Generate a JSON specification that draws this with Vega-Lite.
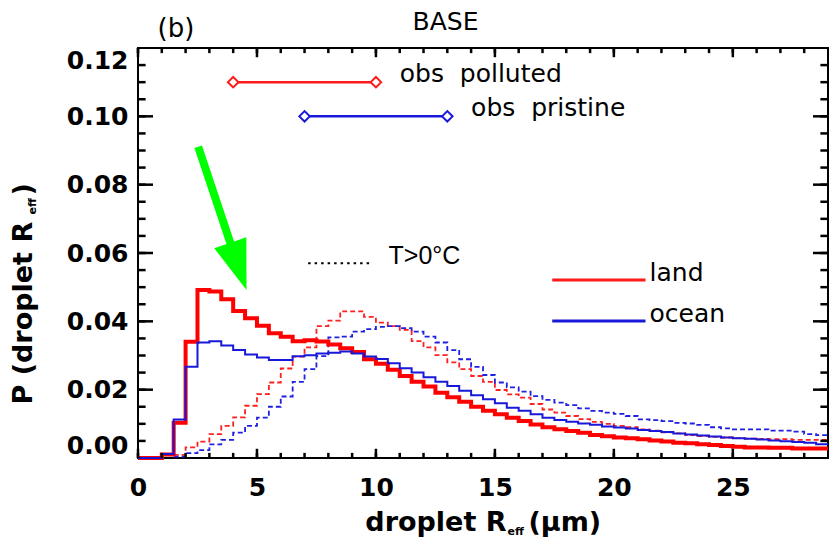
{
  "$schema": "https://vega.github.io/schema/vega-lite/v6.json",
  "width": 690,
  "height": 410,
  "autosize": {"type": "none"},
  "padding": {"left": 138, "top": 48, "right": 1, "bottom": 87},
  "background": "white",
  "config": {"view": {"stroke": "black", "strokeWidth": 2}, "font": "DejaVu Sans"},
  "datasets": {
    "hist": [
      {"r": 0.0, "land": 0, "ocean": 0, "landWarm": null, "oceanWarm": null},
      {"r": 0.5, "land": 0, "ocean": 0, "landWarm": null, "oceanWarm": null},
      {"r": 1.0, "land": 0.001, "ocean": 0.0012, "landWarm": null, "oceanWarm": null},
      {"r": 1.5, "land": 0.0103, "ocean": 0.0113, "landWarm": 0.0009, "oceanWarm": 0.0004},
      {"r": 2.0, "land": 0.034, "ocean": 0.0267, "landWarm": 0.0031, "oceanWarm": 0.0014},
      {"r": 2.5, "land": 0.0492, "ocean": 0.0338, "landWarm": 0.0048, "oceanWarm": 0.0023},
      {"r": 3.0, "land": 0.0487, "ocean": 0.0342, "landWarm": 0.007, "oceanWarm": 0.004},
      {"r": 3.5, "land": 0.0465, "ocean": 0.0329, "landWarm": 0.0094, "oceanWarm": 0.0053},
      {"r": 4.0, "land": 0.043, "ocean": 0.0316, "landWarm": 0.0119, "oceanWarm": 0.0074},
      {"r": 4.5, "land": 0.0409, "ocean": 0.0303, "landWarm": 0.0153, "oceanWarm": 0.0094},
      {"r": 5.0, "land": 0.0387, "ocean": 0.0294, "landWarm": 0.0187, "oceanWarm": 0.0118},
      {"r": 5.5, "land": 0.0365, "ocean": 0.0287, "landWarm": 0.0221, "oceanWarm": 0.015},
      {"r": 6.0, "land": 0.0355, "ocean": 0.0287, "landWarm": 0.0262, "oceanWarm": 0.018},
      {"r": 6.5, "land": 0.0342, "ocean": 0.0298, "landWarm": 0.0297, "oceanWarm": 0.0223},
      {"r": 7.0, "land": 0.0345, "ocean": 0.0301, "landWarm": 0.0324, "oceanWarm": 0.026},
      {"r": 7.5, "land": 0.0341, "ocean": 0.0306, "landWarm": 0.0386, "oceanWarm": 0.0298},
      {"r": 8.0, "land": 0.0332, "ocean": 0.0308, "landWarm": 0.0402, "oceanWarm": 0.0353},
      {"r": 8.5, "land": 0.0321, "ocean": 0.0312, "landWarm": 0.0429, "oceanWarm": 0.0355},
      {"r": 9.0, "land": 0.031, "ocean": 0.0306, "landWarm": 0.0429, "oceanWarm": 0.037},
      {"r": 9.5, "land": 0.0289, "ocean": 0.0297, "landWarm": 0.0413, "oceanWarm": 0.0377},
      {"r": 10.0, "land": 0.0276, "ocean": 0.029, "landWarm": 0.0396, "oceanWarm": 0.0384},
      {"r": 10.5, "land": 0.0258, "ocean": 0.0277, "landWarm": 0.0386, "oceanWarm": 0.0386},
      {"r": 11.0, "land": 0.024, "ocean": 0.0263, "landWarm": 0.0375, "oceanWarm": 0.038},
      {"r": 11.5, "land": 0.0223, "ocean": 0.025, "landWarm": 0.0342, "oceanWarm": 0.037},
      {"r": 12.0, "land": 0.0209, "ocean": 0.0236, "landWarm": 0.0324, "oceanWarm": 0.0355},
      {"r": 12.5, "land": 0.0191, "ocean": 0.0223, "landWarm": 0.0301, "oceanWarm": 0.0338},
      {"r": 13.0, "land": 0.0178, "ocean": 0.0211, "landWarm": 0.028, "oceanWarm": 0.0316},
      {"r": 13.5, "land": 0.0165, "ocean": 0.0197, "landWarm": 0.026, "oceanWarm": 0.0289},
      {"r": 14.0, "land": 0.015, "ocean": 0.0184, "landWarm": 0.024, "oceanWarm": 0.0267},
      {"r": 14.5, "land": 0.0138, "ocean": 0.0172, "landWarm": 0.0223, "oceanWarm": 0.0243},
      {"r": 15.0, "land": 0.0128, "ocean": 0.016, "landWarm": 0.0199, "oceanWarm": 0.0221},
      {"r": 15.5, "land": 0.0118, "ocean": 0.0147, "landWarm": 0.0186, "oceanWarm": 0.0207},
      {"r": 16.0, "land": 0.0108, "ocean": 0.0138, "landWarm": 0.0177, "oceanWarm": 0.0194},
      {"r": 16.5, "land": 0.0098, "ocean": 0.0128, "landWarm": 0.0158, "oceanWarm": 0.0181},
      {"r": 17.0, "land": 0.009, "ocean": 0.0118, "landWarm": 0.0142, "oceanWarm": 0.017},
      {"r": 17.5, "land": 0.0084, "ocean": 0.0111, "landWarm": 0.0133, "oceanWarm": 0.0162},
      {"r": 18.0, "land": 0.0079, "ocean": 0.0106, "landWarm": 0.0123, "oceanWarm": 0.0155},
      {"r": 18.5, "land": 0.0074, "ocean": 0.0101, "landWarm": 0.0114, "oceanWarm": 0.0145},
      {"r": 19.0, "land": 0.0067, "ocean": 0.0097, "landWarm": 0.0106, "oceanWarm": 0.0138},
      {"r": 19.5, "land": 0.0064, "ocean": 0.0092, "landWarm": 0.01, "oceanWarm": 0.0133},
      {"r": 20.0, "land": 0.006, "ocean": 0.0089, "landWarm": 0.0094, "oceanWarm": 0.0129},
      {"r": 20.5, "land": 0.0058, "ocean": 0.0086, "landWarm": 0.009, "oceanWarm": 0.0123},
      {"r": 21.0, "land": 0.0055, "ocean": 0.0082, "landWarm": 0.0084, "oceanWarm": 0.0113},
      {"r": 21.5, "land": 0.0051, "ocean": 0.0079, "landWarm": 0.008, "oceanWarm": 0.0111},
      {"r": 22.0, "land": 0.0048, "ocean": 0.0076, "landWarm": 0.0075, "oceanWarm": 0.0108},
      {"r": 22.5, "land": 0.0045, "ocean": 0.0072, "landWarm": 0.0072, "oceanWarm": 0.0103},
      {"r": 23.0, "land": 0.0043, "ocean": 0.0069, "landWarm": 0.0067, "oceanWarm": 0.0101},
      {"r": 23.5, "land": 0.004, "ocean": 0.0066, "landWarm": 0.0064, "oceanWarm": 0.0097},
      {"r": 24.0, "land": 0.0038, "ocean": 0.0063, "landWarm": 0.0062, "oceanWarm": 0.009},
      {"r": 24.5, "land": 0.0035, "ocean": 0.006, "landWarm": 0.006, "oceanWarm": 0.0087},
      {"r": 25.0, "land": 0.0033, "ocean": 0.0058, "landWarm": 0.0058, "oceanWarm": 0.0084},
      {"r": 25.5, "land": 0.0031, "ocean": 0.0056, "landWarm": 0.0057, "oceanWarm": 0.0084},
      {"r": 26.0, "land": 0.0031, "ocean": 0.0054, "landWarm": 0.0056, "oceanWarm": 0.0084},
      {"r": 26.5, "land": 0.003, "ocean": 0.0051, "landWarm": 0.0055, "oceanWarm": 0.008},
      {"r": 27.0, "land": 0.003, "ocean": 0.0049, "landWarm": 0.0055, "oceanWarm": 0.008},
      {"r": 27.5, "land": 0.0028, "ocean": 0.0047, "landWarm": 0.0053, "oceanWarm": 0.0077},
      {"r": 28.0, "land": 0.0028, "ocean": 0.0045, "landWarm": 0.0053, "oceanWarm": 0.007},
      {"r": 28.5, "land": 0.0028, "ocean": 0.004, "landWarm": 0.0053, "oceanWarm": 0.0067},
      {"r": 29.0, "land": 0.0028, "ocean": 0.004, "landWarm": 0.0053, "oceanWarm": 0.0067}
    ],
    "xTicks": [{"v": 0}, {"v": 1}, {"v": 2}, {"v": 3}, {"v": 4}, {"v": 5}, {"v": 6}, {"v": 7}, {"v": 8}, {"v": 9}, {"v": 10}, {"v": 11}, {"v": 12}, {"v": 13}, {"v": 14}, {"v": 15}, {"v": 16}, {"v": 17}, {"v": 18}, {"v": 19}, {"v": 20}, {"v": 21}, {"v": 22}, {"v": 23}, {"v": 24}, {"v": 25}, {"v": 26}, {"v": 27}, {"v": 28}],
    "yTicks": [{"v": 0.005}, {"v": 0.01}, {"v": 0.015}, {"v": 0.02}, {"v": 0.025}, {"v": 0.03}, {"v": 0.035}, {"v": 0.04}, {"v": 0.045}, {"v": 0.05}, {"v": 0.055}, {"v": 0.06}, {"v": 0.065}, {"v": 0.07}, {"v": 0.075}, {"v": 0.08}, {"v": 0.085}, {"v": 0.09}, {"v": 0.095}, {"v": 0.1}, {"v": 0.105}, {"v": 0.11}, {"v": 0.115}],
    "obsRed": [{"x": 4.0, "y": 0.11}, {"x": 10.0, "y": 0.11}],
    "obsBlue": [{"x": 7.0, "y": 0.10}, {"x": 13.0, "y": 0.10}],
    "labels": [
      {"x": 11.0, "y": 0.11, "label": "obs\u00a0 polluted"},
      {"x": 14.0, "y": 0.10, "label": "obs\u00a0 pristine"},
      {"x": 21.5, "y": 0.0519, "label": "land"},
      {"x": 21.5, "y": 0.0399, "label": "ocean"}
    ],
    "temp": [{"x": 10.53, "y": 0.0568, "label": "T>0°C"}],
    "keyRed": [{"x": 17.41, "x2": 21.33, "y": 0.0521}],
    "keyBlue": [{"x": 17.41, "x2": 21.33, "y": 0.0401}],
    "keyDot": [{"x": 7.15, "x2": 9.75, "y": 0.057}],
    "shaft": [{"x": 2.53, "y": 0.0911, "x2": 3.95, "y2": 0.0615}],
    "head": [{"x": 4.22, "y": 0.0561}]
  },
  "layer": [
    {
      "data": {"name": "hist"},
      "mark": {"type": "line", "interpolate": "step-after", "color": "#ff2020", "strokeWidth": 1.8, "strokeDash": [5, 3]},
      "encoding": {
        "x": {"field": "r", "type": "quantitative", "scale": {"domain": [0, 29], "nice": false, "zero": false},
          "axis": {"orient": "bottom", "ticks": false, "labels": false, "domain": false, "grid": false,
            "title": "eff", "titleFont": "DejaVu Sans", "titleFontSize": 11, "titleFontWeight": "bold", "titleColor": "black",
            "titleAlign": "left", "titleBaseline": "alphabetic", "titleAnchor": "start", "titleX": 369, "titleY": 76}},
        "y": {"field": "landWarm", "type": "quantitative", "scale": {"domain": [0, 0.12], "nice": false, "zero": false},
          "axis": {"orient": "left", "ticks": false, "labels": false, "domain": false, "grid": false,
            "title": "eff", "titleFont": "DejaVu Sans", "titleFontSize": 11, "titleFontWeight": "bold", "titleColor": "black",
            "titleAngle": 270, "titleAlign": "left", "titleBaseline": "alphabetic", "titleAnchor": "start", "titleX": -103, "titleY": 166}}
      }
    },
    {
      "data": {"name": "hist"},
      "mark": {"type": "line", "interpolate": "step-after", "color": "#2020e0", "strokeWidth": 1.8, "strokeDash": [5, 3]},
      "encoding": {
        "x": {"field": "r", "type": "quantitative", "scale": {"domain": [0, 29], "nice": false, "zero": false},
          "axis": {"orient": "bottom", "ticks": false, "labels": false, "domain": false, "grid": false,
            "title": "(μm)", "titleFont": "DejaVu Sans", "titleFontSize": 27, "titleFontWeight": "bold", "titleColor": "black",
            "titleAlign": "left", "titleBaseline": "alphabetic", "titleAnchor": "start", "titleX": 390, "titleY": 72}},
        "y": {"field": "oceanWarm", "type": "quantitative", "scale": {"domain": [0, 0.12], "nice": false, "zero": false},
          "axis": {"orient": "left", "ticks": false, "labels": false, "domain": false, "grid": false,
            "title": ")", "titleFont": "DejaVu Sans", "titleFontSize": 27, "titleFontWeight": "bold", "titleColor": "black",
            "titleAngle": 270, "titleAlign": "left", "titleBaseline": "alphabetic", "titleAnchor": "start", "titleX": -107, "titleY": 147}}
      }
    },
    {
      "data": {"name": "hist"},
      "mark": {"type": "line", "interpolate": "step-after", "color": "#ff0000", "strokeWidth": 4},
      "encoding": {
        "x": {"field": "r", "type": "quantitative", "scale": {"domain": [0, 29], "nice": false, "zero": false},
          "axis": {"orient": "bottom", "values": [0, 5, 10, 15, 20, 25], "format": "d",
            "ticks": false, "domain": false, "grid": false,
            "labelFont": "DejaVu Sans", "labelFontSize": 25, "labelFontWeight": "bold", "labelColor": "black", "labelPadding": 17,
            "labelFlush": false, "labelOverlap": false,
            "title": "droplet R", "titleFont": "DejaVu Sans", "titleFontSize": 27, "titleFontWeight": "bold", "titleColor": "black",
            "titleAlign": "right", "titleBaseline": "alphabetic", "titleAnchor": "start", "titleX": 368, "titleY": 72}},
        "y": {"field": "land", "type": "quantitative", "scale": {"domain": [0, 0.12], "nice": false, "zero": false},
          "axis": {"orient": "left", "values": [0, 0.02, 0.04, 0.06, 0.08, 0.1, 0.12], "format": ".2f",
            "ticks": false, "domain": false, "grid": false,
            "labelFont": "DejaVu Sans", "labelFontSize": 25, "labelFontWeight": "bold", "labelColor": "black", "labelPadding": 10,
            "labelFlush": true, "labelOverlap": false,
            "title": "P (droplet R", "titleFont": "DejaVu Sans", "titleFontSize": 27, "titleFontWeight": "bold", "titleColor": "black",
            "titleAngle": 270, "titleAlign": "left", "titleBaseline": "alphabetic", "titleAnchor": "start", "titleX": -107, "titleY": 356}}
      }
    },
    {
      "data": {"name": "hist"},
      "mark": {"type": "line", "interpolate": "step-after", "color": "#1818d8", "strokeWidth": 2},
      "encoding": {
        "x": {"field": "r", "type": "quantitative", "scale": {"domain": [0, 29], "nice": false, "zero": false},
          "axis": {"orient": "top", "ticks": false, "labels": false, "domain": false, "grid": false,
            "title": "BASE", "titleFont": "DejaVu Sans", "titleFontSize": 25, "titleFontWeight": "normal", "titleColor": "black",
            "titleAlign": "center", "titleBaseline": "alphabetic", "titleAnchor": "start", "titleX": 307, "titleY": -19}},
        "y": {"field": "ocean", "type": "quantitative", "scale": {"domain": [0, 0.12], "nice": false, "zero": false}, "axis": null}
      }
    },
    {
      "data": {"name": "obsRed"},
      "mark": {"type": "line", "color": "#ff1a1a", "strokeWidth": 2.5},
      "encoding": {
        "x": {"field": "x", "type": "quantitative", "scale": {"domain": [0, 29], "nice": false, "zero": false},
          "axis": {"orient": "top", "ticks": false, "labels": false, "domain": false, "grid": false,
            "title": "(b)", "titleFont": "DejaVu Sans", "titleFontSize": 26, "titleFontWeight": "normal", "titleColor": "black",
            "titleAlign": "left", "titleBaseline": "alphabetic", "titleAnchor": "start", "titleX": 19, "titleY": -12}},
        "y": {"field": "y", "type": "quantitative", "scale": {"domain": [0, 0.12], "nice": false, "zero": false}, "axis": null}
      }
    },
    {
      "data": {"name": "obsRed"},
      "mark": {"type": "point", "shape": "diamond", "size": 110, "color": "#ff1a1a", "fill": "white", "filled": false, "strokeWidth": 2, "opacity": 1},
      "encoding": {
        "x": {"field": "x", "type": "quantitative", "scale": {"domain": [0, 29], "nice": false, "zero": false}, "axis": null},
        "y": {"field": "y", "type": "quantitative", "scale": {"domain": [0, 0.12], "nice": false, "zero": false}, "axis": null}
      }
    },
    {
      "data": {"name": "obsBlue"},
      "mark": {"type": "line", "color": "#1818d8", "strokeWidth": 2.5},
      "encoding": {
        "x": {"field": "x", "type": "quantitative", "scale": {"domain": [0, 29], "nice": false, "zero": false}, "axis": null},
        "y": {"field": "y", "type": "quantitative", "scale": {"domain": [0, 0.12], "nice": false, "zero": false}, "axis": null}
      }
    },
    {
      "data": {"name": "obsBlue"},
      "mark": {"type": "point", "shape": "diamond", "size": 110, "color": "#1818d8", "fill": "white", "filled": false, "strokeWidth": 2, "opacity": 1},
      "encoding": {
        "x": {"field": "x", "type": "quantitative", "scale": {"domain": [0, 29], "nice": false, "zero": false}, "axis": null},
        "y": {"field": "y", "type": "quantitative", "scale": {"domain": [0, 0.12], "nice": false, "zero": false}, "axis": null}
      }
    },
    {
      "data": {"name": "keyRed"},
      "mark": {"type": "rule", "color": "#ff1a1a", "strokeWidth": 3},
      "encoding": {
        "x": {"field": "x", "type": "quantitative", "scale": {"domain": [0, 29], "nice": false, "zero": false}, "axis": null},
        "x2": {"field": "x2"},
        "y": {"field": "y", "type": "quantitative", "scale": {"domain": [0, 0.12], "nice": false, "zero": false}, "axis": null}
      }
    },
    {
      "data": {"name": "keyBlue"},
      "mark": {"type": "rule", "color": "#1818d8", "strokeWidth": 3},
      "encoding": {
        "x": {"field": "x", "type": "quantitative", "scale": {"domain": [0, 29], "nice": false, "zero": false}, "axis": null},
        "x2": {"field": "x2"},
        "y": {"field": "y", "type": "quantitative", "scale": {"domain": [0, 0.12], "nice": false, "zero": false}, "axis": null}
      }
    },
    {
      "data": {"name": "keyDot"},
      "mark": {"type": "rule", "color": "black", "strokeWidth": 2.2, "strokeDash": [2.5, 4]},
      "encoding": {
        "x": {"field": "x", "type": "quantitative", "scale": {"domain": [0, 29], "nice": false, "zero": false}, "axis": null},
        "x2": {"field": "x2"},
        "y": {"field": "y", "type": "quantitative", "scale": {"domain": [0, 0.12], "nice": false, "zero": false}, "axis": null}
      }
    },
    {
      "data": {"name": "labels"},
      "mark": {"type": "text", "align": "left", "baseline": "alphabetic", "font": "DejaVu Sans", "fontSize": 25, "color": "black"},
      "encoding": {
        "x": {"field": "x", "type": "quantitative", "scale": {"domain": [0, 29], "nice": false, "zero": false}, "axis": null},
        "y": {"field": "y", "type": "quantitative", "scale": {"domain": [0, 0.12], "nice": false, "zero": false}, "axis": null},
        "text": {"field": "label"}
      }
    },
    {
      "data": {"name": "temp"},
      "mark": {"type": "text", "align": "left", "baseline": "alphabetic", "font": "Liberation Sans", "fontSize": 25, "color": "black"},
      "encoding": {
        "x": {"field": "x", "type": "quantitative", "scale": {"domain": [0, 29], "nice": false, "zero": false}, "axis": null},
        "y": {"field": "y", "type": "quantitative", "scale": {"domain": [0, 0.12], "nice": false, "zero": false}, "axis": null},
        "text": {"field": "label"}
      }
    },
    {
      "data": {"name": "shaft"},
      "mark": {"type": "rule", "color": "#00ff00", "strokeWidth": 8, "strokeCap": "butt"},
      "encoding": {
        "x": {"field": "x", "type": "quantitative", "scale": {"domain": [0, 29], "nice": false, "zero": false}, "axis": null},
        "y": {"field": "y", "type": "quantitative", "scale": {"domain": [0, 0.12], "nice": false, "zero": false}, "axis": null},
        "x2": {"field": "x2"},
        "y2": {"field": "y2"}
      }
    },
    {
      "data": {"name": "head"},
      "mark": {"type": "point", "shape": "M-0.68,-1L0.68,-1L0,1Z", "size": 2500, "angle": 341, "filled": true, "color": "#00ff00", "opacity": 1},
      "encoding": {
        "x": {"field": "x", "type": "quantitative", "scale": {"domain": [0, 29], "nice": false, "zero": false}, "axis": null},
        "y": {"field": "y", "type": "quantitative", "scale": {"domain": [0, 0.12], "nice": false, "zero": false}, "axis": null}
      }
    },
    {
      "data": {"name": "xTicks"},
      "mark": {"type": "rule", "color": "#000000", "strokeWidth": 2.5, "opacity": 1},
      "encoding": {
        "x": {"field": "v", "type": "quantitative", "scale": {"domain": [0, 29], "nice": false, "zero": false}, "axis": null},
        "y": {"datum": 0, "type": "quantitative", "scale": {"domain": [0, 0.12], "nice": false, "zero": false}, "axis": null},
        "y2": {"datum": 0.0015}
      }
    },
    {
      "data": {"name": "xTicks"},
      "transform": [{"filter": "datum.v % 5 === 0"}],
      "mark": {"type": "rule", "color": "#000000", "strokeWidth": 2.5, "opacity": 1},
      "encoding": {
        "x": {"field": "v", "type": "quantitative", "scale": {"domain": [0, 29], "nice": false, "zero": false}, "axis": null},
        "y": {"datum": 0, "type": "quantitative", "scale": {"domain": [0, 0.12], "nice": false, "zero": false}, "axis": null},
        "y2": {"datum": 0.0027}
      }
    },
    {
      "data": {"name": "xTicks"},
      "mark": {"type": "rule", "color": "#000000", "strokeWidth": 2.5, "opacity": 1},
      "encoding": {
        "x": {"field": "v", "type": "quantitative", "scale": {"domain": [0, 29], "nice": false, "zero": false}, "axis": null},
        "y": {"datum": 0.12, "type": "quantitative", "scale": {"domain": [0, 0.12], "nice": false, "zero": false}, "axis": null},
        "y2": {"datum": 0.1185}
      }
    },
    {
      "data": {"name": "xTicks"},
      "transform": [{"filter": "datum.v % 5 === 0"}],
      "mark": {"type": "rule", "color": "#000000", "strokeWidth": 2.5, "opacity": 1},
      "encoding": {
        "x": {"field": "v", "type": "quantitative", "scale": {"domain": [0, 29], "nice": false, "zero": false}, "axis": null},
        "y": {"datum": 0.12, "type": "quantitative", "scale": {"domain": [0, 0.12], "nice": false, "zero": false}, "axis": null},
        "y2": {"datum": 0.1173}
      }
    },
    {
      "data": {"name": "yTicks"},
      "mark": {"type": "rule", "color": "#000000", "strokeWidth": 2.5, "opacity": 1},
      "encoding": {
        "y": {"field": "v", "type": "quantitative", "scale": {"domain": [0, 0.12], "nice": false, "zero": false}, "axis": null},
        "x": {"datum": 0, "type": "quantitative", "scale": {"domain": [0, 29], "nice": false, "zero": false}, "axis": null},
        "x2": {"datum": 0.32}
      }
    },
    {
      "data": {"name": "yTicks"},
      "transform": [{"filter": "round(datum.v * 1000) % 20 === 0"}],
      "mark": {"type": "rule", "color": "#000000", "strokeWidth": 2.5, "opacity": 1},
      "encoding": {
        "y": {"field": "v", "type": "quantitative", "scale": {"domain": [0, 0.12], "nice": false, "zero": false}, "axis": null},
        "x": {"datum": 0, "type": "quantitative", "scale": {"domain": [0, 29], "nice": false, "zero": false}, "axis": null},
        "x2": {"datum": 0.63}
      }
    },
    {
      "data": {"name": "yTicks"},
      "mark": {"type": "rule", "color": "#000000", "strokeWidth": 2.5, "opacity": 1},
      "encoding": {
        "y": {"field": "v", "type": "quantitative", "scale": {"domain": [0, 0.12], "nice": false, "zero": false}, "axis": null},
        "x": {"datum": 29, "type": "quantitative", "scale": {"domain": [0, 29], "nice": false, "zero": false}, "axis": null},
        "x2": {"datum": 28.68}
      }
    },
    {
      "data": {"name": "yTicks"},
      "transform": [{"filter": "round(datum.v * 1000) % 20 === 0"}],
      "mark": {"type": "rule", "color": "#000000", "strokeWidth": 2.5, "opacity": 1},
      "encoding": {
        "y": {"field": "v", "type": "quantitative", "scale": {"domain": [0, 0.12], "nice": false, "zero": false}, "axis": null},
        "x": {"datum": 29, "type": "quantitative", "scale": {"domain": [0, 29], "nice": false, "zero": false}, "axis": null},
        "x2": {"datum": 28.37}
      }
    }
  ],
  "resolve": {"axis": {"x": "independent", "y": "independent"}}
}
